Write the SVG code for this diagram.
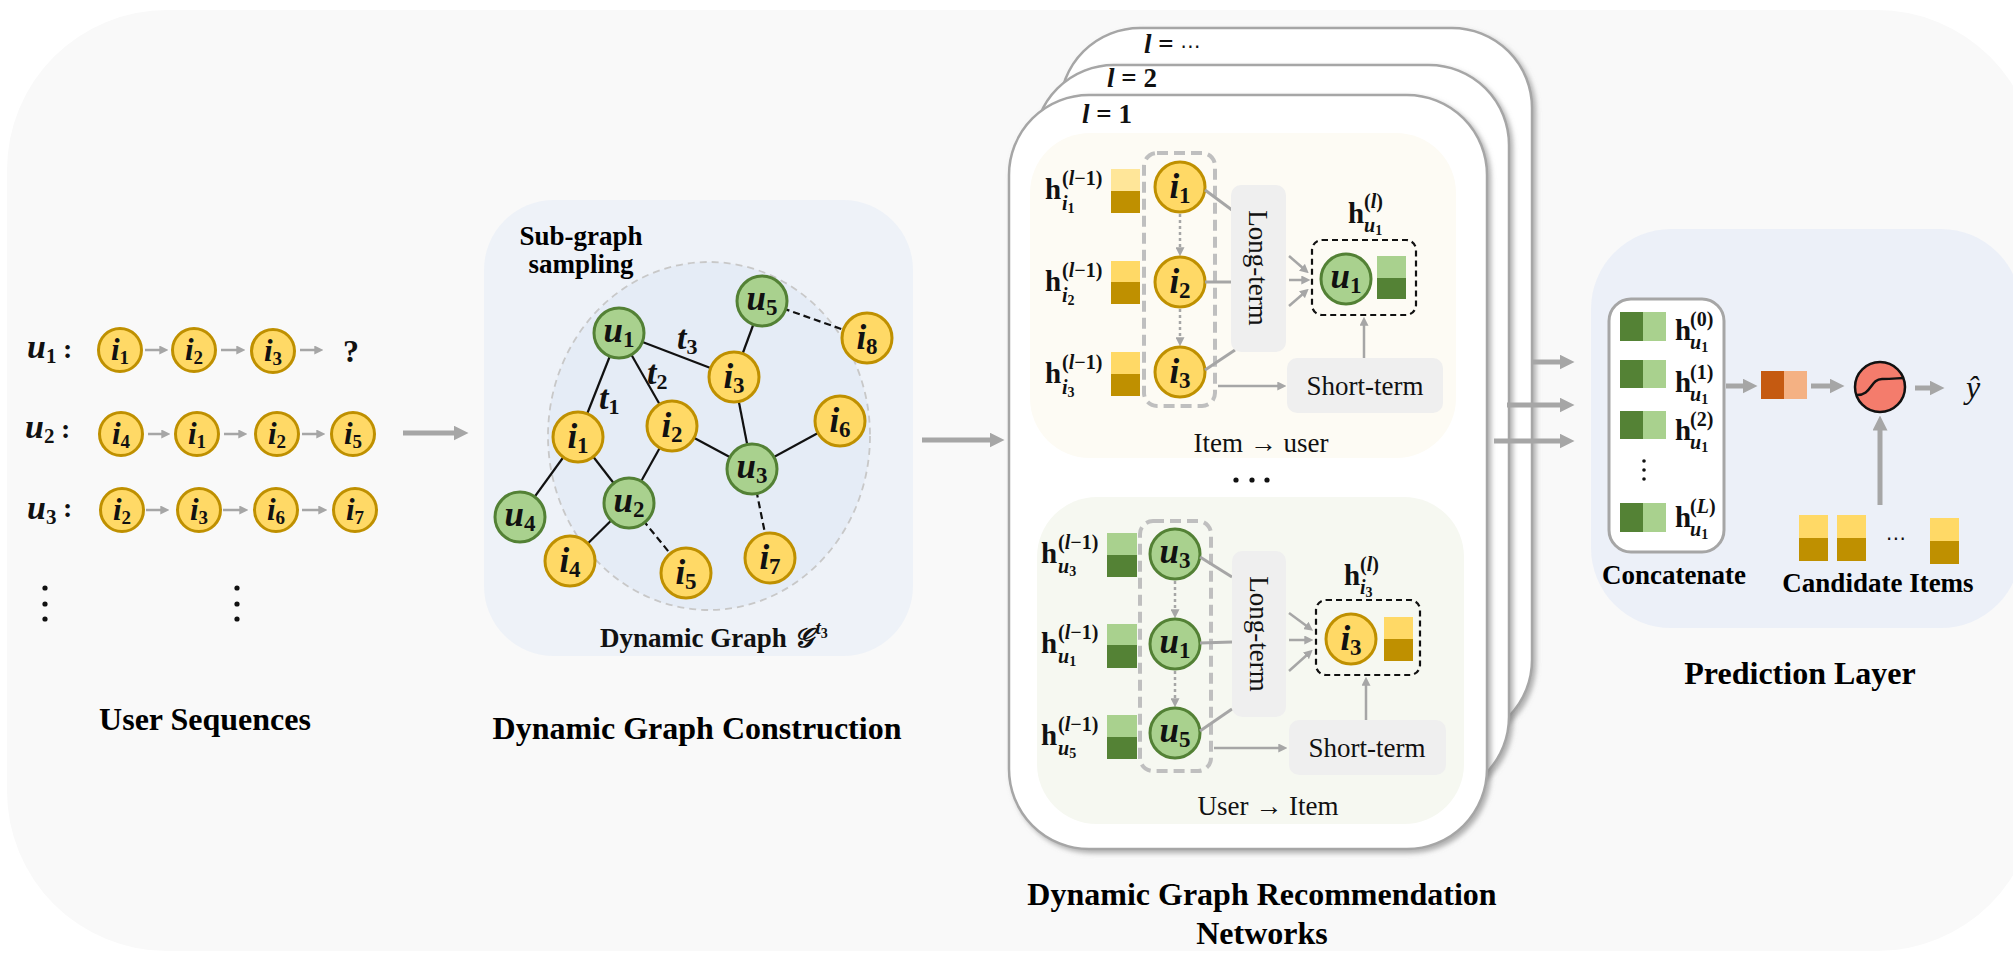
<svg xmlns="http://www.w3.org/2000/svg" width="2013" height="963" viewBox="0 0 2013 963">
<defs>
<style>
.yc{fill:#ffd966;stroke:#bf9000;stroke-width:3}
.gc{fill:#a9d18e;stroke:#538135;stroke-width:3}
.m{font-family:"Liberation Serif",serif;font-style:italic;font-weight:bold;fill:#111}
.mn{font-style:normal}
.ttl{font-family:"Liberation Serif",serif;font-weight:bold;font-size:32px;fill:#000;text-anchor:middle}
.b27{font-family:"Liberation Serif",serif;font-weight:bold;font-size:27px;fill:#000;text-anchor:middle}
.rt{font-family:"Liberation Serif",serif;font-size:27px;fill:#111;text-anchor:middle}
.e{stroke:#111;stroke-width:2.2}
.ed{stroke:#111;stroke-width:2.2;stroke-dasharray:7 4}
.ga{stroke:#a6a6a6;stroke-width:3;fill:none}
.gs{stroke:#a6a6a6;stroke-width:2.5;fill:none;marker-end:url(#aS)}
.gd{stroke:#a6a6a6;stroke-width:2.5;fill:none;stroke-dasharray:3 3;marker-end:url(#aS)}
.gb{stroke:#a6a6a6;stroke-width:5;fill:none;marker-end:url(#aB)}
.panel{fill:#fff;stroke:#a6a6a6;stroke-width:2.5;filter:url(#sh)}
.gbox{fill:#efefef}
.dgray{fill:none;stroke:#bfbfbf;stroke-width:4;stroke-dasharray:11 6}
.dblack{fill:none;stroke:#111;stroke-width:2.2;stroke-dasharray:6 4}
.ylt{fill:#ffd966}.ypl{fill:#ffe699}.ydk{fill:#bf9000}.glt{fill:#a9d18e}.gdk{fill:#548235}
.h{font-family:"Liberation Serif",serif;font-weight:bold;font-size:29px;fill:#111}
.sc{font-family:"Liberation Serif",serif;font-weight:bold;font-size:20px;fill:#111}
.it{font-style:italic}
.dot{fill:#111}
.sq{font-size:31px;text-anchor:middle}
.gn{font-size:35px;text-anchor:middle}
</style>
<marker id="aS" viewBox="0 0 10 10" refX="3" refY="5" markerWidth="9" markerHeight="9" markerUnits="userSpaceOnUse" orient="auto"><path d="M0,0 L10,5 L0,10 z" fill="#a6a6a6"/></marker>
<marker id="aB" viewBox="0 0 10 10" refX="3" refY="5" markerWidth="15" markerHeight="15" markerUnits="userSpaceOnUse" orient="auto"><path d="M0,0 L10,5 L0,10 z" fill="#a6a6a6"/></marker>
<filter id="sh" x="-5%" y="-5%" width="115%" height="115%"><feDropShadow dx="3" dy="3" stdDeviation="2.5" flood-color="#7f7f7f" flood-opacity="0.6"/></filter>
</defs>

<rect x="7" y="10" width="2030" height="941" rx="160" fill="#f9f9f9"/>

<!-- User sequences -->
<g id="user-sequences">
<g id="seq-arrows">
<line class="gs" x1="145" y1="350" x2="162" y2="350"/>
<line class="gs" x1="221" y1="350" x2="239" y2="350"/>
<line class="gs" x1="300" y1="350" x2="317" y2="350"/>
<line class="gs" x1="148" y1="434" x2="164" y2="434"/>
<line class="gs" x1="224" y1="434" x2="241" y2="434"/>
<line class="gs" x1="302" y1="434" x2="319" y2="434"/>
<line class="gs" x1="146" y1="510" x2="163" y2="510"/>
<line class="gs" x1="223" y1="510" x2="242" y2="510"/>
<line class="gs" x1="302" y1="510" x2="321" y2="510"/>
</g>
<g id="seq-u1">
<text class="m" x="27" y="358" font-size="34">u<tspan class="mn" font-size="21" dy="5">1</tspan></text>
<text class="m mn" x="63" y="358" font-size="28">:</text>
<circle class="yc" cx="120" cy="350" r="21.5"/><text class="m sq" x="120" y="360">i<tspan class="mn" font-size="19" dy="4">1</tspan></text>
<circle class="yc" cx="194" cy="350" r="21.5"/><text class="m sq" x="194" y="360">i<tspan class="mn" font-size="19" dy="4">2</tspan></text>
<circle class="yc" cx="273" cy="351" r="21.5"/><text class="m sq" x="273" y="361">i<tspan class="mn" font-size="19" dy="4">3</tspan></text>
<text x="351" y="362" font-family="Liberation Serif, serif" font-weight="bold" font-size="32" text-anchor="middle" fill="#111">?</text>
</g>
<g id="seq-u2">
<text class="m" x="25" y="438" font-size="34">u<tspan class="mn" font-size="21" dy="5">2</tspan></text>
<text class="m mn" x="61" y="438" font-size="28">:</text>
<circle class="yc" cx="121" cy="434" r="21.5"/><text class="m sq" x="121" y="444">i<tspan class="mn" font-size="19" dy="4">4</tspan></text>
<circle class="yc" cx="197" cy="434" r="21.5"/><text class="m sq" x="197" y="444">i<tspan class="mn" font-size="19" dy="4">1</tspan></text>
<circle class="yc" cx="277" cy="434" r="21.5"/><text class="m sq" x="277" y="444">i<tspan class="mn" font-size="19" dy="4">2</tspan></text>
<circle class="yc" cx="353" cy="434" r="21.5"/><text class="m sq" x="353" y="444">i<tspan class="mn" font-size="19" dy="4">5</tspan></text>
</g>
<g id="seq-u3">
<text class="m" x="27" y="519" font-size="34">u<tspan class="mn" font-size="21" dy="5">3</tspan></text>
<text class="m mn" x="63" y="517" font-size="28">:</text>
<circle class="yc" cx="122" cy="510" r="21.5"/><text class="m sq" x="122" y="520">i<tspan class="mn" font-size="19" dy="4">2</tspan></text>
<circle class="yc" cx="199" cy="510" r="21.5"/><text class="m sq" x="199" y="520">i<tspan class="mn" font-size="19" dy="4">3</tspan></text>
<circle class="yc" cx="276" cy="510" r="21.5"/><text class="m sq" x="276" y="520">i<tspan class="mn" font-size="19" dy="4">6</tspan></text>
<circle class="yc" cx="355" cy="510" r="21.5"/><text class="m sq" x="355" y="520">i<tspan class="mn" font-size="19" dy="4">7</tspan></text>
</g>
<g id="seq-dots">
<circle class="dot" cx="45" cy="588" r="2.6"/><circle class="dot" cx="45" cy="604" r="2.6"/><circle class="dot" cx="45" cy="619" r="2.6"/>
<circle class="dot" cx="237" cy="588" r="2.6"/><circle class="dot" cx="237" cy="604" r="2.6"/><circle class="dot" cx="237" cy="619" r="2.6"/>
</g>
<text class="ttl" x="205" y="730">User Sequences</text>
</g>

<!-- Dynamic graph construction -->
<g id="dynamic-graph">
<rect x="484" y="200" width="429" height="456" rx="70" fill="#eef2f8"/>
<ellipse cx="709" cy="436" rx="161" ry="174" fill="#e5ecf6" stroke="#c8c8c8" stroke-width="1.8" stroke-dasharray="7 5"/>
<text class="b27" x="581" y="245">Sub-graph</text>
<text class="b27" x="581" y="273">sampling</text>
<g id="graph-edges">
<line class="e" x1="619" y1="333" x2="578" y2="437"/>
<line class="e" x1="619" y1="333" x2="672" y2="426"/>
<line class="e" x1="619" y1="333" x2="734" y2="377"/>
<line class="e" x1="762" y1="301" x2="734" y2="377"/>
<line class="ed" x1="762" y1="301" x2="867" y2="338"/>
<line class="e" x1="734" y1="377" x2="752" y2="469"/>
<line class="e" x1="672" y1="426" x2="752" y2="469"/>
<line class="e" x1="752" y1="469" x2="840" y2="421"/>
<line class="e" x1="578" y1="437" x2="520" y2="517"/>
<line class="e" x1="578" y1="437" x2="629" y2="503"/>
<line class="e" x1="672" y1="426" x2="629" y2="503"/>
<line class="e" x1="629" y1="503" x2="570" y2="561"/>
<line class="ed" x1="629" y1="503" x2="686" y2="573"/>
<line class="ed" x1="752" y1="469" x2="770" y2="558"/>
</g>
<text class="m" x="599" y="409" font-size="34">t<tspan class="mn" font-size="22" dy="5">1</tspan></text>
<text class="m" x="647" y="384" font-size="34">t<tspan class="mn" font-size="22" dy="5">2</tspan></text>
<text class="m" x="677" y="349" font-size="34">t<tspan class="mn" font-size="22" dy="5">3</tspan></text>
<g id="g-u1"><circle class="gc" cx="619" cy="333" r="25"/><text class="m gn" x="619" y="342">u<tspan class="mn" font-size="23" dy="5">1</tspan></text></g>
<g id="g-i1"><circle class="yc" cx="578" cy="437" r="25"/><text class="m gn" x="578" y="448">i<tspan class="mn" font-size="23" dy="5">1</tspan></text></g>
<g id="g-i2"><circle class="yc" cx="672" cy="426" r="25"/><text class="m gn" x="672" y="437">i<tspan class="mn" font-size="23" dy="5">2</tspan></text></g>
<g id="g-i3"><circle class="yc" cx="734" cy="377" r="25"/><text class="m gn" x="734" y="388">i<tspan class="mn" font-size="23" dy="5">3</tspan></text></g>
<g id="g-u5"><circle class="gc" cx="762" cy="301" r="25"/><text class="m gn" x="762" y="310">u<tspan class="mn" font-size="23" dy="5">5</tspan></text></g>
<g id="g-i8"><circle class="yc" cx="867" cy="338" r="25"/><text class="m gn" x="867" y="349">i<tspan class="mn" font-size="23" dy="5">8</tspan></text></g>
<g id="g-i6"><circle class="yc" cx="840" cy="421" r="25"/><text class="m gn" x="840" y="432">i<tspan class="mn" font-size="23" dy="5">6</tspan></text></g>
<g id="g-u3"><circle class="gc" cx="752" cy="469" r="25"/><text class="m gn" x="752" y="478">u<tspan class="mn" font-size="23" dy="5">3</tspan></text></g>
<g id="g-u2"><circle class="gc" cx="629" cy="503" r="25"/><text class="m gn" x="629" y="512">u<tspan class="mn" font-size="23" dy="5">2</tspan></text></g>
<g id="g-u4"><circle class="gc" cx="520" cy="517" r="25"/><text class="m gn" x="520" y="526">u<tspan class="mn" font-size="23" dy="5">4</tspan></text></g>
<g id="g-i4"><circle class="yc" cx="570" cy="561" r="25"/><text class="m gn" x="570" y="572">i<tspan class="mn" font-size="23" dy="5">4</tspan></text></g>
<g id="g-i5"><circle class="yc" cx="686" cy="573" r="25"/><text class="m gn" x="686" y="584">i<tspan class="mn" font-size="23" dy="5">5</tspan></text></g>
<g id="g-i7"><circle class="yc" cx="770" cy="558" r="25"/><text class="m gn" x="770" y="569">i<tspan class="mn" font-size="23" dy="5">7</tspan></text></g>
<text x="600" y="647" font-family="Liberation Serif, serif" font-weight="bold" font-size="27" fill="#111">Dynamic Graph <tspan font-family="DejaVu Serif, serif" font-style="italic" font-size="27">𝒢</tspan><tspan class="it" font-size="19" dx="3" dy="-13">t</tspan><tspan font-size="14" dy="4">3</tspan></text>
<text class="ttl" x="697" y="739">Dynamic Graph Construction</text>
</g>

<!-- DGRN stacked panels -->
<g id="dgrn">
<rect class="panel" x="1060" y="28" width="472" height="712" rx="80"/>
<rect class="panel" x="1034" y="65" width="475" height="732" rx="80"/>
<rect class="panel" x="1009" y="95" width="478" height="754" rx="80"/>
<text class="m" x="1144" y="53" font-size="27">l<tspan class="mn"> = </tspan><tspan class="mn" font-family="DejaVu Sans, sans-serif" font-size="20" font-weight="normal">⋯</tspan></text>
<text class="m" x="1107" y="87" font-size="27">l<tspan class="mn"> = 2</tspan></text>
<text class="m" x="1082" y="123" font-size="27">l<tspan class="mn"> = 1</tspan></text>

<!-- Item -> user -->
<g id="item-to-user">
<rect x="1030" y="133" width="426" height="325" rx="60" fill="#fdfbf4"/>
<text class="h" x="1045" y="199">h</text><text class="sc" x="1062" y="185">(<tspan class="it">l</tspan>−1)</text><text class="sc it" x="1062" y="210">i<tspan class="mn" font-size="14" dy="3">1</tspan></text>
<text class="h" x="1045" y="291">h</text><text class="sc" x="1062" y="277">(<tspan class="it">l</tspan>−1)</text><text class="sc it" x="1062" y="302">i<tspan class="mn" font-size="14" dy="3">2</tspan></text>
<text class="h" x="1045" y="383">h</text><text class="sc" x="1062" y="369">(<tspan class="it">l</tspan>−1)</text><text class="sc it" x="1062" y="394">i<tspan class="mn" font-size="14" dy="3">3</tspan></text>
<rect class="ypl" x="1111" y="169" width="29" height="22"/><rect class="ydk" x="1111" y="191" width="29" height="22"/>
<rect class="ylt" x="1111" y="261" width="29" height="21"/><rect class="ydk" x="1111" y="282" width="29" height="22"/>
<rect class="ylt" x="1111" y="352" width="29" height="22"/><rect class="ydk" x="1111" y="374" width="29" height="22"/>
<rect class="dgray" x="1144" y="153" width="71" height="253" rx="13"/>
<line class="gd" x1="1180" y1="214" x2="1180" y2="250"/>
<line class="gd" x1="1180" y1="309" x2="1180" y2="340"/>
<circle class="yc" cx="1180" cy="187" r="25"/><text class="m gn" x="1180" y="198">i<tspan class="mn" font-size="23" dy="5">1</tspan></text>
<circle class="yc" cx="1180" cy="282" r="25"/><text class="m gn" x="1180" y="293">i<tspan class="mn" font-size="23" dy="5">2</tspan></text>
<circle class="yc" cx="1180" cy="372" r="25"/><text class="m gn" x="1180" y="383">i<tspan class="mn" font-size="23" dy="5">3</tspan></text>
<line class="ga" x1="1205" y1="190" x2="1232" y2="210"/>
<line class="ga" x1="1205" y1="282" x2="1232" y2="282"/>
<line class="ga" x1="1205" y1="370" x2="1235" y2="350"/>
<rect class="gbox" x="1231" y="185" width="55" height="167" rx="10"/>
<text class="rt" transform="translate(1258,268) rotate(90)" y="9">Long-term</text>
<line class="gs" x1="1289" y1="256" x2="1304" y2="269"/>
<line class="gs" x1="1289" y1="280" x2="1304" y2="280"/>
<line class="gs" x1="1289" y1="306" x2="1304" y2="293"/>
<text class="h" x="1348" y="223">h</text><text class="sc" x="1364" y="208">(<tspan class="it">l</tspan>)</text><text class="sc it" x="1364" y="232">u<tspan class="mn" font-size="14" dy="3">1</tspan></text>
<rect class="dblack" x="1312" y="240" width="104" height="75" rx="10"/>
<circle class="gc" cx="1346" cy="279" r="25"/><text class="m gn" x="1346" y="288">u<tspan class="mn" font-size="23" dy="5">1</tspan></text>
<rect class="glt" x="1377" y="256" width="29" height="22"/><rect class="gdk" x="1377" y="278" width="29" height="21"/>
<rect class="gbox" x="1287" y="358" width="156" height="55" rx="10"/>
<text class="rt" x="1365" y="395">Short-term</text>
<line class="gs" x1="1218" y1="386" x2="1280" y2="386"/>
<line class="gs" x1="1364" y1="358" x2="1364" y2="323"/>
<text class="rt" x="1261" y="452">Item → user</text>
</g>
<circle class="dot" cx="1236" cy="480" r="2.6"/><circle class="dot" cx="1252" cy="480" r="2.6"/><circle class="dot" cx="1267" cy="480" r="2.6"/>

<!-- User -> Item -->
<g id="user-to-item">
<rect x="1037" y="497" width="427" height="327" rx="60" fill="#f6f8f1"/>
<text class="h" x="1041" y="563">h</text><text class="sc" x="1058" y="549">(<tspan class="it">l</tspan>−1)</text><text class="sc it" x="1058" y="573">u<tspan class="mn" font-size="14" dy="3">3</tspan></text>
<text class="h" x="1041" y="653">h</text><text class="sc" x="1058" y="639">(<tspan class="it">l</tspan>−1)</text><text class="sc it" x="1058" y="663">u<tspan class="mn" font-size="14" dy="3">1</tspan></text>
<text class="h" x="1041" y="745">h</text><text class="sc" x="1058" y="731">(<tspan class="it">l</tspan>−1)</text><text class="sc it" x="1058" y="755">u<tspan class="mn" font-size="14" dy="3">5</tspan></text>
<rect class="glt" x="1107" y="533" width="30" height="22"/><rect class="gdk" x="1107" y="555" width="30" height="22"/>
<rect class="glt" x="1107" y="624" width="30" height="21"/><rect class="gdk" x="1107" y="645" width="30" height="23"/>
<rect class="glt" x="1107" y="715" width="30" height="22"/><rect class="gdk" x="1107" y="737" width="30" height="22"/>
<rect class="dgray" x="1140" y="521" width="71" height="250" rx="13"/>
<line class="gd" x1="1175" y1="581" x2="1175" y2="612"/>
<line class="gd" x1="1175" y1="671" x2="1175" y2="701"/>
<circle class="gc" cx="1175" cy="554" r="25"/><text class="m gn" x="1175" y="563">u<tspan class="mn" font-size="23" dy="5">3</tspan></text>
<circle class="gc" cx="1175" cy="644" r="25"/><text class="m gn" x="1175" y="653">u<tspan class="mn" font-size="23" dy="5">1</tspan></text>
<circle class="gc" cx="1175" cy="733" r="25"/><text class="m gn" x="1175" y="742">u<tspan class="mn" font-size="23" dy="5">5</tspan></text>
<line class="ga" x1="1200" y1="557" x2="1232" y2="577"/>
<line class="ga" x1="1200" y1="643" x2="1232" y2="642"/>
<line class="ga" x1="1200" y1="731" x2="1232" y2="709"/>
<rect class="gbox" x="1232" y="551" width="54" height="166" rx="10"/>
<text class="rt" transform="translate(1259,634) rotate(90)" y="9">Long-term</text>
<line class="gs" x1="1289" y1="613" x2="1308" y2="627"/>
<line class="gs" x1="1289" y1="640" x2="1307" y2="640"/>
<line class="gs" x1="1289" y1="671" x2="1308" y2="654"/>
<text class="h" x="1344" y="585">h</text><text class="sc" x="1360" y="571">(<tspan class="it">l</tspan>)</text><text class="sc it" x="1360" y="594">i<tspan class="mn" font-size="14" dy="3">3</tspan></text>
<rect class="dblack" x="1316" y="600" width="104" height="75" rx="10"/>
<circle class="yc" cx="1351" cy="639" r="25"/><text class="m gn" x="1351" y="650">i<tspan class="mn" font-size="23" dy="5">3</tspan></text>
<rect class="ylt" x="1384" y="617" width="29" height="22"/><rect class="ydk" x="1384" y="639" width="29" height="22"/>
<rect class="gbox" x="1289" y="720" width="157" height="55" rx="10"/>
<text class="rt" x="1367" y="757">Short-term</text>
<line class="gs" x1="1214" y1="748" x2="1281" y2="748"/>
<line class="gs" x1="1366" y1="720" x2="1366" y2="683"/>
<text class="rt" x="1268" y="815">User → Item</text>
</g>
<text class="ttl" x="1262" y="905">Dynamic Graph Recommendation</text>
<text class="ttl" x="1262" y="944">Networks</text>
</g>

<!-- Connectors between stages -->
<g id="connectors">
<line class="gb" x1="403" y1="433" x2="458" y2="433"/>
<line class="gb" x1="922" y1="440" x2="994" y2="440"/>
<line class="gb" x1="1532" y1="362" x2="1564" y2="362"/>
<line class="gb" x1="1507" y1="405" x2="1564" y2="405"/>
<line class="gb" x1="1494" y1="441" x2="1564" y2="441"/>
</g>

<!-- Prediction layer -->
<g id="prediction-layer">
<rect x="1591" y="229" width="430" height="399" rx="80" fill="#ecf0f8"/>
<g id="concatenate">
<rect x="1609" y="299" width="115" height="253" rx="22" fill="#fff" stroke="#a6a6a6" stroke-width="3"/>
<rect class="gdk" x="1620" y="312" width="23" height="29"/><rect class="glt" x="1643" y="312" width="23" height="29"/>
<rect class="gdk" x="1620" y="360" width="23" height="28"/><rect class="glt" x="1643" y="360" width="23" height="28"/>
<rect class="gdk" x="1620" y="411" width="23" height="28"/><rect class="glt" x="1643" y="411" width="23" height="28"/>
<rect class="gdk" x="1620" y="503" width="23" height="29"/><rect class="glt" x="1643" y="503" width="23" height="29"/>
<circle class="dot" cx="1644" cy="461" r="1.8"/><circle class="dot" cx="1644" cy="470" r="1.8"/><circle class="dot" cx="1644" cy="479" r="1.8"/>
<text class="h" x="1675" y="340" font-size="27">h</text><text class="sc" x="1690" y="326">(0)</text><text class="sc it" x="1690" y="349">u<tspan class="mn" font-size="14" dy="3">1</tspan></text>
<text class="h" x="1675" y="392" font-size="27">h</text><text class="sc" x="1690" y="379">(1)</text><text class="sc it" x="1690" y="401">u<tspan class="mn" font-size="14" dy="3">1</tspan></text>
<text class="h" x="1675" y="440" font-size="27">h</text><text class="sc" x="1690" y="426">(2)</text><text class="sc it" x="1690" y="449">u<tspan class="mn" font-size="14" dy="3">1</tspan></text>
<text class="h" x="1675" y="527" font-size="27">h</text><text class="sc" x="1690" y="513">(<tspan class="it">L</tspan>)</text><text class="sc it" x="1690" y="536">u<tspan class="mn" font-size="14" dy="3">1</tspan></text>
</g>
<text class="b27" x="1674" y="584">Concatenate</text>
<line class="gb" x1="1726" y1="386" x2="1747" y2="386"/>
<rect x="1761" y="371" width="23" height="28" fill="#c55a11"/><rect x="1784" y="371" width="23" height="28" fill="#f4b183"/>
<line class="gb" x1="1811" y1="386" x2="1834" y2="386"/>
<g id="sigmoid">
<circle cx="1880" cy="387" r="25" fill="#f47c6c" stroke="#111" stroke-width="2.5"/>
<path d="M1856,395 C1872,396 1870,379 1882,379 S1898,378 1904,378" fill="none" stroke="#111" stroke-width="2.5"/>
</g>
<line class="gb" x1="1915" y1="388" x2="1934" y2="388"/>
<text x="1973" y="398" font-family="Liberation Serif, serif" font-style="italic" font-size="32" fill="#111" text-anchor="middle">ŷ</text>
<line class="gb" x1="1880" y1="505" x2="1880" y2="426"/>
<g id="candidates">
<rect class="ylt" x="1799" y="515" width="29" height="23"/><rect class="ydk" x="1799" y="538" width="29" height="23"/>
<rect class="ylt" x="1837" y="515" width="29" height="23"/><rect class="ydk" x="1837" y="538" width="29" height="23"/>
<text x="1896" y="545" font-family="DejaVu Sans, sans-serif" font-size="20" fill="#111" text-anchor="middle">⋯</text>
<rect class="ylt" x="1930" y="518" width="29" height="23"/><rect class="ydk" x="1930" y="541" width="29" height="23"/>
</g>
<text class="b27" x="1878" y="592">Candidate Items</text>
<text class="ttl" x="1800" y="684">Prediction Layer</text>
</g>
</svg>
